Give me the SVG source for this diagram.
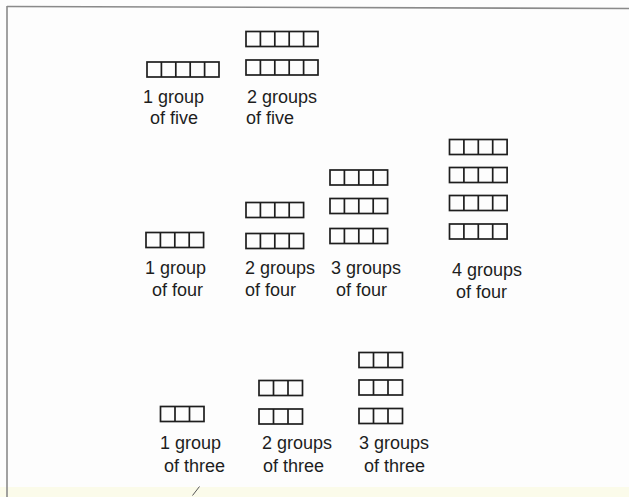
<svg xmlns="http://www.w3.org/2000/svg" xmlns:xlink="http://www.w3.org/1999/xlink" width="629" height="497" viewBox="0 0 629 497">
  <style>
    .lbl { font-family: "Liberation Sans", Arial, sans-serif; font-size: 18px; fill: #1e1e1e; }
    .strip { fill: none; stroke: #1e1e1e; stroke-width: 1.7; }
    .frame { fill: none; stroke: #8a8a8a; stroke-width: 1.6; }
  </style>
  <defs>
    <g id="five" class="strip">
      <rect x="0" y="0" width="72" height="15"/>
      <path d="M14.4 0V15M28.8 0V15M43.2 0V15M57.6 0V15"/>
    </g>
    <g id="four" class="strip">
      <rect x="0" y="0" width="57.6" height="15"/>
      <path d="M14.4 0V15M28.8 0V15M43.2 0V15"/>
    </g>
    <g id="three" class="strip">
      <rect x="0" y="0" width="43.5" height="15"/>
      <path d="M14.5 0V15M29 0V15"/>
    </g>
  </defs>

  <rect x="0" y="0" width="629" height="497" fill="#fdfdfd"/>
  <rect x="0" y="487" width="629" height="10" fill="#fbfbea"/>

  <g id="frame">
    <path class="frame" d="M7 6.5L629 8.5"/>
    <path class="frame" d="M7 6V497"/>
  </g>

  <!-- groups of five -->
  <g id="one-group-of-five">
    <use xlink:href="#five" x="147" y="62"/>
    <text class="lbl" x="143" y="103">1 group</text>
    <text class="lbl" x="150" y="124">of five</text>
  </g>
  <g id="two-groups-of-five">
    <use xlink:href="#five" x="246" y="31.5"/>
    <use xlink:href="#five" x="246" y="60"/>
    <text class="lbl" x="247" y="103">2 groups</text>
    <text class="lbl" x="246" y="124">of five</text>
  </g>

  <!-- groups of four -->
  <g id="one-group-of-four">
    <use xlink:href="#four" x="146" y="232.5"/>
    <text class="lbl" x="145" y="274">1 group</text>
    <text class="lbl" x="152" y="296">of four</text>
  </g>
  <g id="two-groups-of-four">
    <use xlink:href="#four" x="246" y="202.5"/>
    <use xlink:href="#four" x="246" y="233.5"/>
    <text class="lbl" x="245" y="274">2 groups</text>
    <text class="lbl" x="245" y="296">of four</text>
  </g>
  <g id="three-groups-of-four">
    <use xlink:href="#four" x="330" y="170"/>
    <use xlink:href="#four" x="330" y="198.5"/>
    <use xlink:href="#four" x="330" y="228.5"/>
    <text class="lbl" x="331" y="274">3 groups</text>
    <text class="lbl" x="336" y="296">of four</text>
  </g>
  <g id="four-groups-of-four">
    <use xlink:href="#four" x="449.5" y="139.5"/>
    <use xlink:href="#four" x="449.5" y="167.5"/>
    <use xlink:href="#four" x="449.5" y="195.5"/>
    <use xlink:href="#four" x="449.5" y="224"/>
    <text class="lbl" x="452" y="276">4 groups</text>
    <text class="lbl" x="456" y="298">of four</text>
  </g>

  <!-- groups of three -->
  <g id="one-group-of-three">
    <use xlink:href="#three" x="160.5" y="406.5"/>
    <text class="lbl" x="160" y="449">1 group</text>
    <text class="lbl" x="164" y="472">of three</text>
  </g>
  <g id="two-groups-of-three">
    <use xlink:href="#three" x="259" y="380.5"/>
    <use xlink:href="#three" x="259" y="409"/>
    <text class="lbl" x="262" y="449">2 groups</text>
    <text class="lbl" x="263" y="472">of three</text>
  </g>
  <g id="three-groups-of-three">
    <use xlink:href="#three" x="359" y="352.5"/>
    <use xlink:href="#three" x="359" y="380"/>
    <use xlink:href="#three" x="359" y="408.5"/>
    <text class="lbl" x="359" y="449">3 groups</text>
    <text class="lbl" x="364" y="472">of three</text>
  </g>

  <path d="M192.5 495.5L199.5 486.5" fill="none" stroke="#555" stroke-width="1"/>
</svg>
